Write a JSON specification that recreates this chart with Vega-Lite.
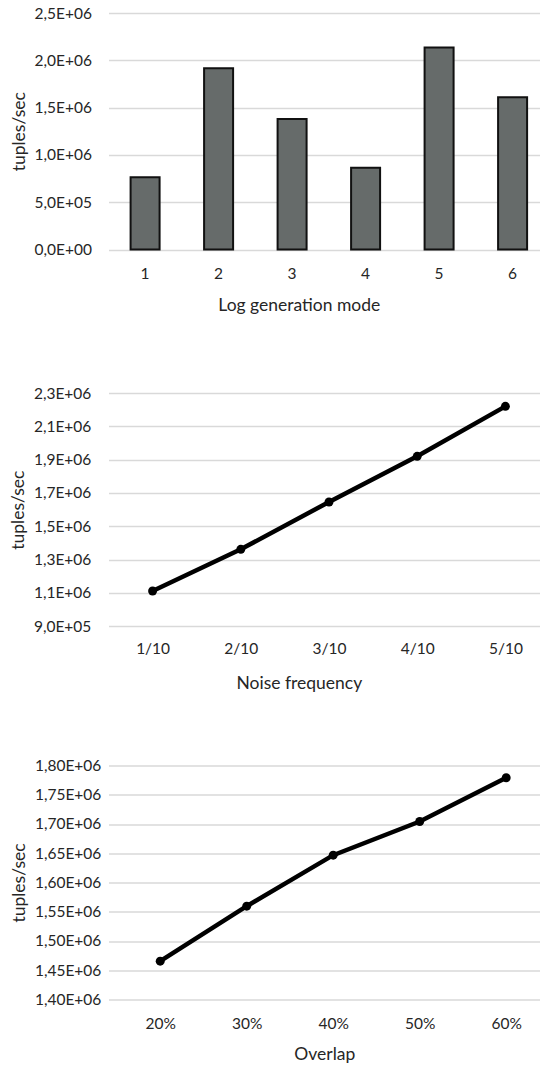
{
  "$schema": "https://vega.github.io/schema/vega-lite/v6.json",
  "background": "white",
  "padding": {"left": 8.5, "top": 6, "right": 0, "bottom": 0},
  "autosize": {"type": "pad"},
  "config": {
    "view": {"stroke": null},
    "axis": {
      "labelFont": "Lato", "labelFontSize": 15.5, "labelColor": "#262626",
      "titleFont": "Lato", "titleFontSize": 17.5, "titleFontWeight": "normal", "titleColor": "#262626",
      "ticks": false, "domain": false, "gridColor": "#d9d9d9", "gridWidth": 1.5
    },
    "axisX": {"grid": false, "labelAngle": 0},
    "axisY": {"grid": true}
  },
  "spacing": 72,
  "vconcat": [
    {
      "width": 431.6,
      "height": 236.5,
      "data": {"values": [
        {"mode": "1", "tps": 765000},
        {"mode": "2", "tps": 1915000},
        {"mode": "3", "tps": 1380000},
        {"mode": "4", "tps": 865000},
        {"mode": "5", "tps": 2135000},
        {"mode": "6", "tps": 1610000}
      ]},
      "mark": {"type": "bar", "fill": "#666b6a", "stroke": "#111111", "strokeWidth": 2},
      "encoding": {
        "x": {
          "field": "mode", "type": "nominal", "sort": null,
          "scale": {"paddingInner": 0.6054, "paddingOuter": 0.2387, "align": 0.6296},
          "axis": {"title": "Log generation mode", "labelPadding": 16.5, "titlePadding": 14.5, "titleX": 190.3}
        },
        "y": {
          "field": "tps", "type": "quantitative",
          "scale": {"domain": [0, 2500000]},
          "axis": {
            "title": "tuples/sec",
            "values": [0, 500000, 1000000, 1500000, 2000000, 2500000],
            "labelExpr": "replace(replace(format(datum.value, '.1e'), '.', ','), 'e+', 'E+0')",
            "labelPadding": 17, "titlePadding": 6
          }
        }
      }
    },
    {
      "spacing": 66.5,
      "vconcat": [
        {
          "width": 431.6,
          "height": 233.3,
          "data": {"values": [
            {"freq": "1/10", "tps": 1112000},
            {"freq": "2/10", "tps": 1362000},
            {"freq": "3/10", "tps": 1646000},
            {"freq": "4/10", "tps": 1920000},
            {"freq": "5/10", "tps": 2220000}
          ]},
          "encoding": {
            "x": {
              "field": "freq", "type": "nominal", "sort": null,
              "scale": {"type": "point", "padding": 0.4467, "align": 0.5596},
              "axis": {"title": "Noise frequency", "labelPadding": 15.6, "titlePadding": 16.7, "titleX": 190.3}
            },
            "y": {
              "field": "tps", "type": "quantitative",
              "scale": {"domain": [900000, 2300000], "zero": false},
              "axis": {
                "title": "tuples/sec",
                "values": [900000, 1100000, 1300000, 1500000, 1700000, 1900000, 2100000, 2300000],
                "labelExpr": "replace(replace(format(datum.value, '.1e'), '.', ','), 'e+', 'E+0')",
                "labelPadding": 17.7, "titlePadding": 6
              }
            }
          },
          "layer": [
            {"mark": {"type": "line", "color": "black", "strokeWidth": 4.5}},
            {"mark": {"type": "point", "filled": true, "color": "black", "size": 80, "opacity": 1}}
          ]
        },
        {
          "width": 431.6,
          "height": 234,
          "data": {"values": [
            {"overlap": "20%", "tps": 1465500},
            {"overlap": "30%", "tps": 1559500},
            {"overlap": "40%", "tps": 1646700},
            {"overlap": "50%", "tps": 1704300},
            {"overlap": "60%", "tps": 1779000}
          ]},
          "encoding": {
            "x": {
              "field": "overlap", "type": "nominal", "sort": null,
              "scale": {"type": "point", "padding": 0.4948, "align": 0.604},
              "axis": {"title": "Overlap", "labelPadding": 17, "titlePadding": 13.9}
            },
            "y": {
              "field": "tps", "type": "quantitative",
              "scale": {"domain": [1400000, 1800000], "zero": false},
              "axis": {
                "title": "tuples/sec",
                "values": [1400000, 1450000, 1500000, 1550000, 1600000, 1650000, 1700000, 1750000, 1800000],
                "labelExpr": "replace(replace(format(datum.value, '.2e'), '.', ','), 'e+', 'E+0')",
                "labelPadding": 7.7, "titlePadding": 6
              }
            }
          },
          "layer": [
            {"mark": {"type": "line", "color": "black", "strokeWidth": 4.5}},
            {"mark": {"type": "point", "filled": true, "color": "black", "size": 80, "opacity": 1}}
          ]
        }
      ]
    }
  ]
}
